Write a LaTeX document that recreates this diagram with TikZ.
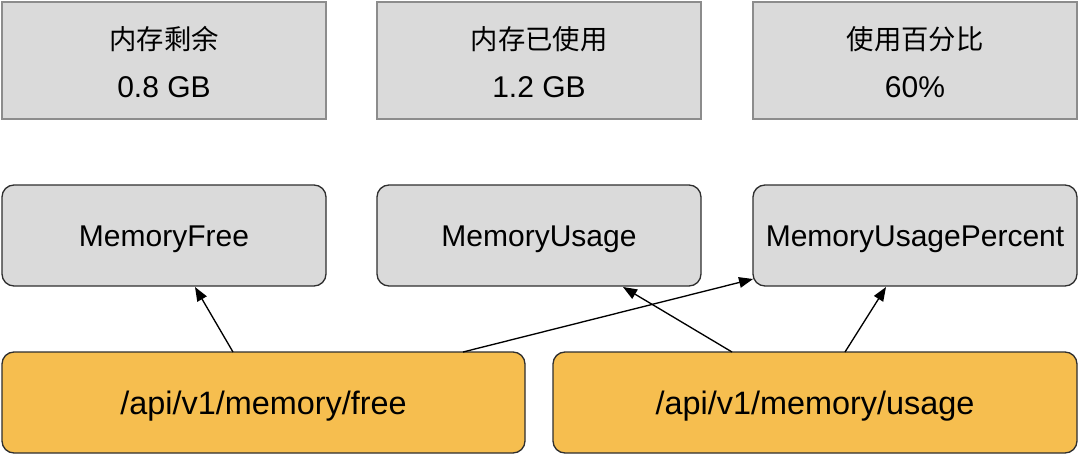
\documentclass[tikz,border=0pt]{standalone}
\usepackage{fontspec}
\setmainfont{Liberation Sans}
\newfontfamily\cjk{Noto Sans CJK SC}
\usetikzlibrary{arrows.meta}
\definecolor{boxgray}{HTML}{DADADA}
\definecolor{topedge}{HTML}{8C8C8C}
\definecolor{midedge}{HTML}{2E2E2E}
\definecolor{apiorange}{HTML}{F6BE4F}
\tikzset{
  valbox/.style={draw=topedge, fill=boxgray, line width=1pt, minimum width=324*0.75pt, minimum height=117*0.75pt, inner sep=0pt},
  metricbox/.style={draw=midedge, fill=boxgray, line width=1pt, rounded corners=9pt, minimum width=324*0.75pt, minimum height=101*0.75pt, inner sep=0pt, font=\fontsize{22.5}{26}\selectfont, text height=16.1pt, text depth=0pt},
  apibox/.style={draw=midedge, fill=apiorange, line width=1pt, rounded corners=9pt, minimum height=101*0.75pt, inner sep=0pt, font=\fontsize{24.3}{28}\selectfont, text height=17.4pt, text depth=0pt},
  vtext/.style={font=\fontsize{22.5}{26}\selectfont, inner sep=0pt, text height=16.1pt, text depth=0pt},
  ctext/.style={font=\fontsize{20.5}{24}\selectfont\cjk, inner sep=0pt},
  link/.style={-{Triangle[length=10.5pt,width=8pt]}, line width=1pt, black}
}
\begin{document}
\begin{tikzpicture}[x=0.75pt,y=-0.75pt]
\useasboundingbox (0,0) rectangle (1080,455);
% top value boxes
\node[valbox] (v1) at (164,60.5) {};
\node[valbox] (v2) at (539,60.5) {};
\node[valbox] (v3) at (915,60.5) {};
\node[ctext] (v1a) at (164,39) {内存剩余};
\node[vtext] (v1b) at (164,86.5) {0.8 GB};
\node[ctext] (v2a) at (539,39) {内存已使用};
\node[vtext] (v2b) at (539,86.5) {1.2 GB};
\node[ctext] (v3a) at (915,39) {使用百分比};
\node[vtext] (v3b) at (915,86.5) {60\%};
% metric boxes
\node[metricbox] (mf) at (164,235.5) {MemoryFree};
\node[metricbox] (mu) at (539,235.5) {MemoryUsage};
\node[metricbox] (mp) at (915,235.5) {MemoryUsagePercent};
% api boxes
\node[apibox, minimum width=523*0.75pt] (af) at (263.5,402.5) {/api/v1/memory/free};
\node[apibox, minimum width=524*0.75pt] (au) at (815,402.5) {/api/v1/memory/usage};
% connector end points
\coordinate (af1) at (233,352);
\coordinate (af2) at (463,352);
\coordinate (au1) at (732,352);
\coordinate (au2) at (845,352);
\coordinate (mf1) at (195,287);
\coordinate (mp1) at (753,279);
\coordinate (mu1) at (623,287);
\coordinate (mp2) at (886,287);
\draw[link] (af1) -- (mf1);
\draw[link] (af2) -- (mp1);
\draw[link] (au1) -- (mu1);
\draw[link] (au2) -- (mp2);
\end{tikzpicture}
\end{document}
